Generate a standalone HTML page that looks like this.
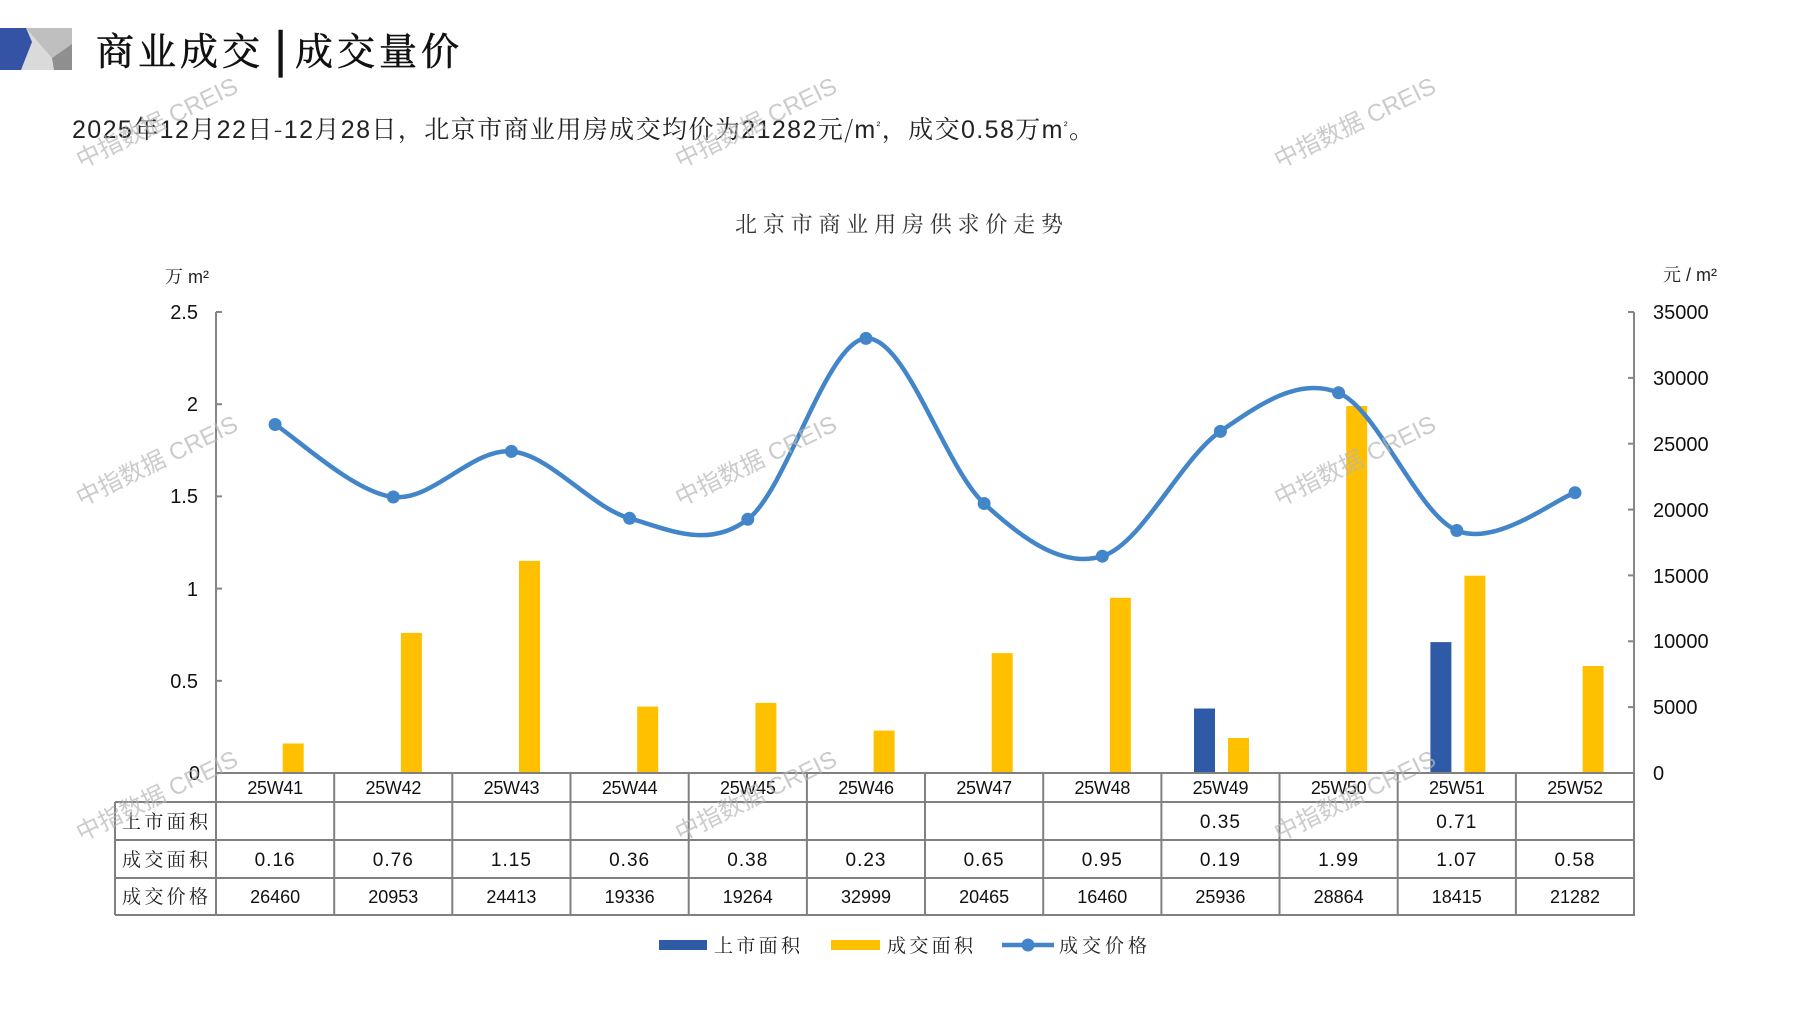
<!DOCTYPE html>
<html><head><meta charset="utf-8">
<style>
html,body{margin:0;padding:0;background:#fff;}
svg{display:block;}
.cjk{font-family:"Noto Serif CJK SC","Liberation Serif",serif;}
.num{font-family:"Liberation Sans","Noto Sans CJK SC",sans-serif;}
</style></head>
<body>
<svg width="1797" height="1010" viewBox="0 0 1797 1010" xmlns="http://www.w3.org/2000/svg">
<rect width="1797" height="1010" fill="#fff"/>
<!-- logo -->
<rect x="0" y="28" width="72" height="42" fill="#dadada"/>
<polygon points="26,28 72,28 72,44 52,58" fill="#bfbfbf"/>
<polygon points="72,44 72,70 54,70 52,58" fill="#8f8f8f"/>
<polygon points="0,28 26,28 32,42 21,70 0,70" fill="#3553a4"/>
<!-- title -->
<text x="96" y="65" class="cjk" font-size="38" fill="#111" stroke="#111" stroke-width="0.6" letter-spacing="4">商业成交</text>
<text x="274" y="65" class="cjk" font-size="42" fill="#111" stroke="#111" stroke-width="2.2">|</text>
<text x="295" y="65" class="cjk" font-size="38" fill="#111" stroke="#111" stroke-width="0.6" letter-spacing="4">成交量价</text>
<!-- subtitle -->
<text x="72" y="138" font-size="25" fill="#222" textLength="1022" lengthAdjust="spacing" font-family="Liberation Sans Narrow, Liberation Sans, Noto Serif CJK SC, sans-serif"><tspan font-family="Liberation Sans Narrow, Liberation Sans, sans-serif">2025</tspan><tspan class="cjk">年</tspan><tspan font-family="Liberation Sans Narrow, Liberation Sans, sans-serif">12</tspan><tspan class="cjk">月</tspan><tspan font-family="Liberation Sans Narrow, Liberation Sans, sans-serif">22</tspan><tspan class="cjk">日-</tspan><tspan font-family="Liberation Sans Narrow, Liberation Sans, sans-serif">12</tspan><tspan class="cjk">月</tspan><tspan font-family="Liberation Sans Narrow, Liberation Sans, sans-serif">28</tspan><tspan class="cjk">日，北京市商业用房成交均价为</tspan><tspan font-family="Liberation Sans Narrow, Liberation Sans, sans-serif">21282</tspan><tspan class="cjk">元/</tspan><tspan font-family="Liberation Sans, sans-serif">m</tspan><tspan font-family="Liberation Sans, sans-serif" font-size="11" dy="-9">²</tspan><tspan class="cjk" dy="9">，成交</tspan><tspan font-family="Liberation Sans Narrow, Liberation Sans, sans-serif">0.58</tspan><tspan class="cjk">万</tspan><tspan font-family="Liberation Sans, sans-serif">m</tspan><tspan font-family="Liberation Sans, sans-serif" font-size="11" dy="-9">²</tspan><tspan class="cjk" dy="9">。</tspan></text>
<!-- chart title -->
<text x="735" y="232" class="cjk" font-size="22" fill="#333" textLength="328" lengthAdjust="spacing">北京市商业用房供求价走势</text>
<!-- unit labels -->
<text x="165" y="283" font-size="18" fill="#222" class="num"><tspan class="cjk">万</tspan> m²</text>
<text x="1663" y="281" font-size="18" fill="#222" class="num"><tspan class="cjk">元</tspan> / m²</text>
<!-- axes -->
<g stroke="#868686" stroke-width="2" fill="none">
<line x1="216" y1="312" x2="216" y2="773"/>
<line x1="1634" y1="312" x2="1634" y2="773"/>
<line x1="216" y1="312" x2="222" y2="312"/>
<line x1="216" y1="404.2" x2="222" y2="404.2"/>
<line x1="216" y1="496.4" x2="222" y2="496.4"/>
<line x1="216" y1="588.6" x2="222" y2="588.6"/>
<line x1="216" y1="680.8" x2="222" y2="680.8"/>
<line x1="1628" y1="312" x2="1634" y2="312"/>
<line x1="1628" y1="377.9" x2="1634" y2="377.9"/>
<line x1="1628" y1="443.7" x2="1634" y2="443.7"/>
<line x1="1628" y1="509.6" x2="1634" y2="509.6"/>
<line x1="1628" y1="575.4" x2="1634" y2="575.4"/>
<line x1="1628" y1="641.3" x2="1634" y2="641.3"/>
<line x1="1628" y1="707.1" x2="1634" y2="707.1"/>
</g>
<g class="num" font-size="20" fill="#111" text-anchor="end">
<text x="198" y="319">2.5</text>
<text x="198" y="411">2</text>
<text x="198" y="503">1.5</text>
<text x="198" y="596">1</text>
<text x="198" y="688">0.5</text>
<text x="200" y="780">0</text>
</g>
<g class="num" font-size="20" fill="#111">
<text x="1653" y="319">35000</text>
<text x="1653" y="385">30000</text>
<text x="1653" y="451">25000</text>
<text x="1653" y="517">20000</text>
<text x="1653" y="583">15000</text>
<text x="1653" y="648">10000</text>
<text x="1653" y="714">5000</text>
<text x="1653" y="780">0</text>
</g>
<!-- bars -->
<g fill="#ffc000">
<rect x="282.7" y="743.5" width="21" height="29.5"/>
<rect x="400.9" y="632.9" width="21" height="140.1"/>
<rect x="519.0" y="560.9" width="21" height="212.1"/>
<rect x="637.2" y="706.6" width="21" height="66.4"/>
<rect x="755.4" y="702.9" width="21" height="70.1"/>
<rect x="873.6" y="730.6" width="21" height="42.4"/>
<rect x="991.7" y="653.1" width="21" height="119.9"/>
<rect x="1109.9" y="597.8" width="21" height="175.2"/>
<rect x="1228.0" y="738.0" width="21" height="35.0"/>
<rect x="1346.2" y="406.0" width="21" height="367.0"/>
<rect x="1464.4" y="575.7" width="21" height="197.3"/>
<rect x="1582.6" y="666.0" width="21" height="107.0"/>
</g>
<g fill="#2f5ba6">
<rect x="1194" y="708.5" width="21" height="64.5"/>
<rect x="1430.4" y="642.1" width="21" height="130.9"/>
</g>
<!-- price line -->
<path d="M275.1,424.5 C294.8,436.6 353.9,492.5 393.3,497.0 C432.7,501.5 472.0,447.9 511.4,451.4 C550.8,455.0 590.2,507.0 629.6,518.3 C669.0,529.6 708.4,549.3 747.8,519.3 C787.2,489.3 826.6,341.0 866.0,338.4 C905.4,335.8 944.7,467.2 984.1,503.5 C1023.5,539.8 1062.9,568.2 1102.3,556.2 C1141.7,544.2 1181.0,458.6 1220.4,431.4 C1259.8,404.2 1299.2,376.3 1338.6,392.8 C1378.0,409.3 1417.4,513.9 1456.8,530.5 C1496.2,547.2 1555.3,499.0 1575.0,492.7" fill="none" stroke="#4285c9" stroke-width="4.5" stroke-linecap="round"/>
<g fill="#4285c9">
<circle cx="275.1" cy="424.5" r="6.5"/>
<circle cx="393.3" cy="497.0" r="6.5"/>
<circle cx="511.4" cy="451.4" r="6.5"/>
<circle cx="629.6" cy="518.3" r="6.5"/>
<circle cx="747.8" cy="519.3" r="6.5"/>
<circle cx="866.0" cy="338.4" r="6.5"/>
<circle cx="984.1" cy="503.5" r="6.5"/>
<circle cx="1102.3" cy="556.2" r="6.5"/>
<circle cx="1220.4" cy="431.4" r="6.5"/>
<circle cx="1338.6" cy="392.8" r="6.5"/>
<circle cx="1456.8" cy="530.5" r="6.5"/>
<circle cx="1575.0" cy="492.7" r="6.5"/>
</g>
<!-- table -->
<g stroke="#808080" stroke-width="2" fill="none">
<line x1="216" y1="773" x2="1635" y2="773"/>
<line x1="115" y1="802" x2="1635" y2="802"/>
<line x1="115" y1="840" x2="1635" y2="840"/>
<line x1="115" y1="878" x2="1635" y2="878"/>
<line x1="115" y1="915" x2="1635" y2="915"/>
<line x1="115" y1="802" x2="115" y2="915"/>
<line x1="216" y1="773" x2="216" y2="915"/>
<line x1="334.2" y1="773" x2="334.2" y2="915"/>
<line x1="452.3" y1="773" x2="452.3" y2="915"/>
<line x1="570.5" y1="773" x2="570.5" y2="915"/>
<line x1="688.7" y1="773" x2="688.7" y2="915"/>
<line x1="806.9" y1="773" x2="806.9" y2="915"/>
<line x1="925.0" y1="773" x2="925.0" y2="915"/>
<line x1="1043.2" y1="773" x2="1043.2" y2="915"/>
<line x1="1161.4" y1="773" x2="1161.4" y2="915"/>
<line x1="1279.5" y1="773" x2="1279.5" y2="915"/>
<line x1="1397.7" y1="773" x2="1397.7" y2="915"/>
<line x1="1515.9" y1="773" x2="1515.9" y2="915"/>
<line x1="1634" y1="773" x2="1634" y2="915"/>
</g>
<g class="cjk" font-size="19" fill="#222">
<text x="122" y="828" textLength="86" lengthAdjust="spacing">上市面积</text>
<text x="122" y="866" textLength="86" lengthAdjust="spacing">成交面积</text>
<text x="122" y="903" textLength="86" lengthAdjust="spacing">成交价格</text>
</g>
<g class="num" font-size="18" fill="#111" text-anchor="middle" letter-spacing="-0.3">
<text x="275.1" y="794">25W41</text>
<text x="393.3" y="794">25W42</text>
<text x="511.4" y="794">25W43</text>
<text x="629.6" y="794">25W44</text>
<text x="747.8" y="794">25W45</text>
<text x="866.0" y="794">25W46</text>
<text x="984.1" y="794">25W47</text>
<text x="1102.3" y="794">25W48</text>
<text x="1220.4" y="794">25W49</text>
<text x="1338.6" y="794">25W50</text>
<text x="1456.8" y="794">25W51</text>
<text x="1575.0" y="794">25W52</text>
</g>
<g class="num" font-size="19" fill="#111" text-anchor="middle" letter-spacing="1">
<text x="1220.4" y="828">0.35</text>
<text x="1456.8" y="828">0.71</text>
<text x="275.1" y="866">0.16</text>
<text x="393.3" y="866">0.76</text>
<text x="511.4" y="866">1.15</text>
<text x="629.6" y="866">0.36</text>
<text x="747.8" y="866">0.38</text>
<text x="866.0" y="866">0.23</text>
<text x="984.1" y="866">0.65</text>
<text x="1102.3" y="866">0.95</text>
<text x="1220.4" y="866">0.19</text>
<text x="1338.6" y="866">1.99</text>
<text x="1456.8" y="866">1.07</text>
<text x="1575.0" y="866">0.58</text>
</g>
<g class="num" font-size="18" fill="#111" text-anchor="middle">
<text x="275.1" y="903">26460</text>
<text x="393.3" y="903">20953</text>
<text x="511.4" y="903">24413</text>
<text x="629.6" y="903">19336</text>
<text x="747.8" y="903">19264</text>
<text x="866.0" y="903">32999</text>
<text x="984.1" y="903">20465</text>
<text x="1102.3" y="903">16460</text>
<text x="1220.4" y="903">25936</text>
<text x="1338.6" y="903">28864</text>
<text x="1456.8" y="903">18415</text>
<text x="1575.0" y="903">21282</text>
</g>
<!-- legend -->
<rect x="659" y="940" width="48" height="10" fill="#2f5ba6"/>
<text x="714" y="952" class="cjk" font-size="19" fill="#222" textLength="86" lengthAdjust="spacing">上市面积</text>
<rect x="831" y="940" width="49" height="10" fill="#ffc000"/>
<text x="887" y="952" class="cjk" font-size="19" fill="#222" textLength="86" lengthAdjust="spacing">成交面积</text>
<line x1="1002" y1="945" x2="1054" y2="945" stroke="#4285c9" stroke-width="4.5"/>
<circle cx="1028" cy="945" r="6.5" fill="#4285c9"/>
<text x="1059" y="952" class="cjk" font-size="19" fill="#222" textLength="88" lengthAdjust="spacing">成交价格</text>
<!-- watermarks -->
<g font-family="Liberation Sans, Noto Sans CJK SC, sans-serif" font-size="24" fill="#b5b5b5" fill-opacity="0.7" text-anchor="middle">
<text transform="translate(157,123) rotate(-26)" y="8">中指数据 CREIS</text>
<text transform="translate(756,123) rotate(-26)" y="8">中指数据 CREIS</text>
<text transform="translate(1355,123) rotate(-26)" y="8">中指数据 CREIS</text>
<text transform="translate(157,461) rotate(-26)" y="8">中指数据 CREIS</text>
<text transform="translate(756,461) rotate(-26)" y="8">中指数据 CREIS</text>
<text transform="translate(1355,461) rotate(-26)" y="8">中指数据 CREIS</text>
<text transform="translate(157,796) rotate(-26)" y="8">中指数据 CREIS</text>
<text transform="translate(756,796) rotate(-26)" y="8">中指数据 CREIS</text>
<text transform="translate(1355,796) rotate(-26)" y="8">中指数据 CREIS</text>
</g>
</svg>
</body></html>
